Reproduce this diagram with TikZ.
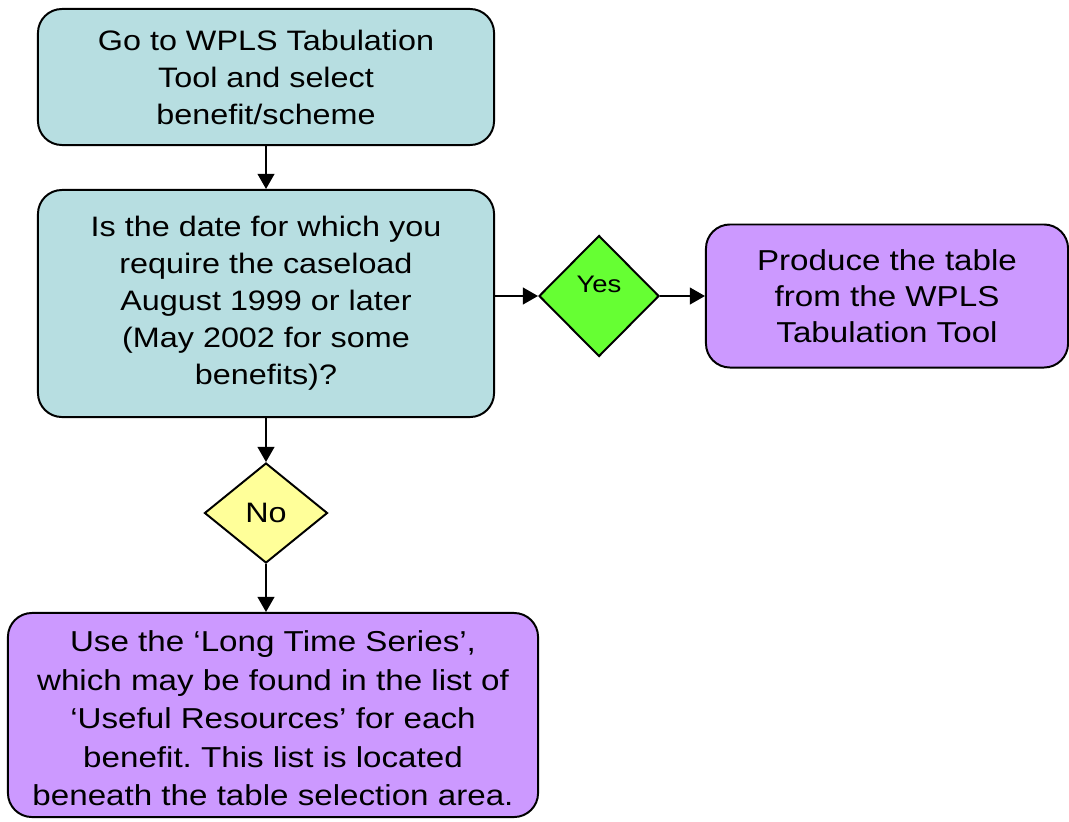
\documentclass[tikz,border=0pt]{standalone}
\usepackage{fontspec}
\setmainfont{Liberation Sans}[FakeStretch=1.15]
\usepackage{tikz}
\usepackage{xcolor}
\usetikzlibrary{arrows.meta,shapes.geometric}
\frenchspacing
\definecolor{tealfill}{RGB}{183,222,225}
\definecolor{lilacfill}{RGB}{204,153,255}
\definecolor{yesfill}{RGB}{102,255,51}
\definecolor{nofill}{RGB}{255,255,153}
\tikzset{
  basenode/.style = {align=center, inner sep=4pt, text centered, draw=black, line width=1.4pt},
  ask_node/.style = {basenode, rectangle, rounded corners=0.6cm, fill=tealfill, font=\fontsize{20pt}{26.3pt}\selectfont},
  do_node/.style = {basenode, rectangle, rounded corners=0.6cm, fill=lilacfill, font=\fontsize{20.5pt}{25.6pt}\selectfont},
  yes_node/.style = {basenode, diamond, inner sep=0pt, fill=yesfill, font=\fontsize{17pt}{20pt}\selectfont},
  no_node/.style = {basenode, diamond, inner sep=0pt, fill=nofill, font=\fontsize{20pt}{24pt}\selectfont},
}

\begin{document}
\begin{tikzpicture}[x=0.025cm, y=-0.025cm, line width=1.4pt, -{Triangle[length=0.38cm,width=0.42cm]}]
    \useasboundingbox (0,0) rectangle (1069,821);
    \node [ask_node, minimum width=11.4cm, minimum height=3.4cm] (select) at (266,77)
        {Go to WPLS Tabulation\\Tool and select\\benefit/scheme};
    \node [ask_node, minimum width=11.4cm, minimum height=5.675cm] (datecheck) at (266,303.5)
        {Is the date for which you\\require the caseload\\August 1999 or later\\(May 2002 for some\\benefits)?};
    \node [yes_node, minimum width=3cm, minimum height=3.025cm] (yes) at (599,296)
        {\raisebox{0.28cm}[\height][\depth]{Yes}};
    \node [do_node, minimum width=9.05cm, minimum height=3.575cm] (produce) at (887,296)
        {Produce the table\\from the WPLS\\Tabulation Tool};
    \node [no_node, minimum width=3.075cm, minimum height=2.5cm] (no) at (266,513) {No};
    \node [do_node, minimum width=13.25cm, minimum height=5.1cm, font=\fontsize{20.5pt}{27.4pt}\selectfont] (longseries) at (273,715)
        {\raisebox{-0.15cm}[\height][\depth]{\begin{tabular}{@{}c@{}}
        Use the `Long Time Series',\\which may be found in the list of\\`Useful Resources' for each\\benefit. This list is located\\beneath the table selection area.
        \end{tabular}}};

    \draw (select) -- (datecheck);
    \draw (yes.west -| datecheck.east) -- (yes.west);
    \draw (yes.east) -- (produce.west);
    \draw (datecheck) -- (no);
    \draw (no.south) -- (no.south |- longseries.north);
\end{tikzpicture}
\end{document}
